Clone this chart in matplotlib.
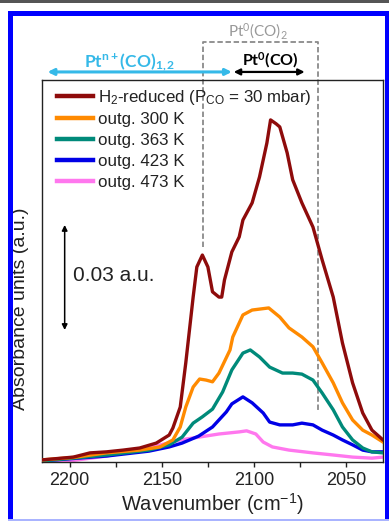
import numpy as np
import matplotlib
matplotlib.use('Agg')
import matplotlib.pyplot as plt
from matplotlib.patches import Rectangle

plt.rcParams['font.family'] = ['Liberation Sans', 'DejaVu Sans']
plt.rcParams['mathtext.fontset'] = 'custom'
plt.rcParams['mathtext.rm'] = 'Liberation Sans'
plt.rcParams['mathtext.it'] = 'Liberation Sans:italic'
plt.rcParams['mathtext.bf'] = 'Lato:bold'
plt.rcParams['mathtext.sf'] = 'Lato'

# ***** data (wavenumber cm-1, absorbance a.u.) *****
wn_red = [2215, 2198, 2189, 2180, 2171, 2162, 2153, 2146, 2144, 2140, 2137, 2133, 2131,
          2128, 2125, 2122.5, 2119, 2117.5, 2116, 2112, 2108, 2106, 2101, 2097, 2093,
          2091, 2088, 2086, 2082, 2079, 2074, 2068, 2063, 2057, 2052, 2046.5, 2041, 2036, 2030]
ab_red = [0.0006, 0.0014, 0.0026, 0.0029, 0.0034, 0.0040, 0.0054, 0.0077, 0.0097, 0.0157,
          0.0283, 0.0471, 0.0557, 0.0591, 0.0557, 0.0486, 0.0471, 0.0471, 0.0520, 0.0600,
          0.0643, 0.0691, 0.0740, 0.0814, 0.0911, 0.0977, 0.0966, 0.0957, 0.0883, 0.0806,
          0.0740, 0.0671, 0.0577, 0.0471, 0.0340, 0.0226, 0.0140, 0.0091, 0.0063]

wn_300 = [2215, 2198, 2180, 2162, 2151, 2144, 2140, 2137, 2133, 2129.5, 2126, 2122.5, 2119,
          2113, 2111.5, 2106, 2101, 2092, 2086, 2081, 2074, 2068, 2063, 2057, 2052, 2046.5,
          2041, 2036, 2030]
ab_300 = [0.0006, 0.0013, 0.0026, 0.0034, 0.0043, 0.0063, 0.0100, 0.0157, 0.0214, 0.0237,
          0.0234, 0.0229, 0.0254, 0.0320, 0.0357, 0.0420, 0.0434, 0.0440, 0.0414, 0.0383,
          0.0357, 0.0329, 0.0283, 0.0226, 0.0169, 0.0120, 0.0091, 0.0077, 0.0057]

wn_363 = [2215, 2198, 2180, 2157, 2146, 2139, 2133, 2128, 2122.5, 2117, 2112, 2106, 2102,
          2097, 2091.5, 2084.5, 2079, 2074, 2068, 2063, 2057, 2052, 2046.5, 2041, 2036, 2030]
ab_363 = [0.0003, 0.0011, 0.0020, 0.0034, 0.0049, 0.0071, 0.0111, 0.0129, 0.0151, 0.0200,
          0.0263, 0.0311, 0.0320, 0.0300, 0.0271, 0.0254, 0.0254, 0.0251, 0.0234, 0.0197,
          0.0149, 0.0100, 0.0063, 0.0040, 0.0029, 0.0026]

wn_423 = [2215, 2198, 2180, 2157, 2146, 2139, 2130, 2122.5, 2115, 2112, 2106, 2101, 2095,
          2091.5, 2086, 2079, 2074, 2068, 2063, 2057, 2052, 2046.5, 2041, 2036, 2030]
ab_423 = [0.0003, 0.0010, 0.0017, 0.0031, 0.0043, 0.0054, 0.0074, 0.0100, 0.0143, 0.0166,
          0.0186, 0.0169, 0.0140, 0.0114, 0.0106, 0.0106, 0.0111, 0.0106, 0.0091, 0.0077,
          0.0063, 0.0049, 0.0034, 0.0029, 0.0029]

wn_473 = [2215, 2200, 2180, 2162, 2140, 2130, 2119, 2108, 2104, 2099, 2095, 2090, 2081,
          2068, 2057, 2046.5, 2036, 2030]
ab_473 = [0.0000, 0.0003, 0.0017, 0.0034, 0.0063, 0.0071, 0.0080, 0.0086, 0.0089, 0.0080,
          0.0057, 0.0043, 0.0034, 0.0026, 0.0020, 0.0014, 0.0011, 0.0014]

labels = [r'H$_2$-reduced (P$_\mathrm{CO}$ = 30 mbar)', 'outg. 300 K', 'outg. 363 K',
          'outg. 423 K', 'outg. 473 K']
colors = ['#8e0b0b', '#ff8a00', '#008a7a', '#0000e6', '#ff77ee']

W, H = 389, 521
fig = plt.figure(figsize=(W / 100, H / 100), dpi=100)

# page frame (grey strip + blue border)
fig.patches.append(Rectangle((0, 1 - 3 / H), 1, 3 / H, transform=fig.transFigure,
                             color='#555555', lw=0))
fig.patches.append(Rectangle((8 / W, -0.01), 5 / W, 1 - 11 / H + 0.01,
                             transform=fig.transFigure, color='#0000ff', lw=0))
fig.patches.append(Rectangle((8 / W, 1 - 16 / H), 1, 5 / H,
                             transform=fig.transFigure, color='#0000ff', lw=0))
fig.patches.append(Rectangle((385 / W, -0.01), 5 / W, 1 - 11 / H + 0.01,
                             transform=fig.transFigure, color='#0000ff', lw=0))
fig.patches.append(Rectangle((8 / W, 0), 1, 2 / H, transform=fig.transFigure,
                             color='#aab4ff', lw=0))

ax = fig.add_axes([42 / W, 59 / H, 341 / W, 382 / H])

series = [(wn_red, ab_red), (wn_300, ab_300), (wn_363, ab_363),
          (wn_423, ab_423), (wn_473, ab_473)]
for i, (wn, ab) in enumerate(series):
    ax.plot(wn, ab, color=colors[i], lw=2.4, label=labels[i], zorder=6 - i,
            solid_joinstyle='round')

ax.set_xlim(2215, 2030)
ax.set_ylim(0, 0.1091)
ax.set_xticks([2200, 2150, 2100, 2050])
ax.set_xticks([2175, 2125, 2075], minor=True)
ax.set_yticks([])
ax.tick_params(axis='x', which='both', direction='out', length=3.5, width=1,
               labelsize=13, colors='#222222', pad=4)
for s in ax.spines.values():
    s.set_linewidth(1.0)
    s.set_color('#222222')

ax.set_xlabel('Wavenumber (cm$^{-1}$)', fontsize=14.5, color='#222222', labelpad=1)
ax.set_ylabel('Absorbance units (a.u.)', fontsize=14, color='#222222')
ax.yaxis.set_label_coords(-0.038, 0.40)

leg = ax.legend(loc='upper left', bbox_to_anchor=(0.044, 0.98), frameon=False,
                fontsize=12.2, handlelength=2.1, handletextpad=0.3, labelspacing=0.34,
                borderpad=0, borderaxespad=0)
for t in leg.get_texts():
    t.set_color('#222222')
for l in leg.get_lines():
    l.set_linewidth(3.2)

# scale bar
ax.annotate('', xy=(2202.7, 0.0377), xytext=(2202.7, 0.0677),
            arrowprops=dict(arrowstyle='<|-|>', color='black', lw=1.1,
                            mutation_scale=8, shrinkA=0, shrinkB=0))
ax.text(2198.4, 0.0534, '0.03 a.u.', fontsize=15, color='#222222', va='center', ha='left')

# assignment markers above the spectra
cyan = '#35b9e8'
ax.annotate('', xy=(2112, 0.1114), xytext=(2212, 0.1114), annotation_clip=False,
            arrowprops=dict(arrowstyle='<|-|>', color=cyan, lw=2.2,
                            mutation_scale=9, shrinkA=0, shrinkB=0))
ax.annotate('', xy=(2072.5, 0.1114), xytext=(2111, 0.1114), annotation_clip=False,
            arrowprops=dict(arrowstyle='<|-|>', color='black', lw=1.6,
                            mutation_scale=9, shrinkA=0, shrinkB=0))
ax.plot([2127.5, 2127.5, 2065.5, 2065.5], [0.0614, 0.120, 0.120, 0.0149],
        ls=(0, (3, 1.5)), color='#8a8a8a', lw=1.3, clip_on=False, zorder=1)
ax.text(2167.5, 0.1143, r'$\mathbf{Pt^{n+}(CO)_{1,2}}$', color=cyan, fontsize=12.5,
        ha='center', va='center', clip_on=False)
ax.text(2091, 0.1149, r'$\mathbf{Pt^{0}(CO)}$', color='black', fontsize=11.5,
        ha='center', va='center', clip_on=False)
ax.text(2098, 0.1231, r'$\mathsf{Pt^{0}(CO)_{2}}$', color='#999999', fontsize=11,
        ha='center', va='center', clip_on=False)

fig.savefig('out.png', dpi=100)
